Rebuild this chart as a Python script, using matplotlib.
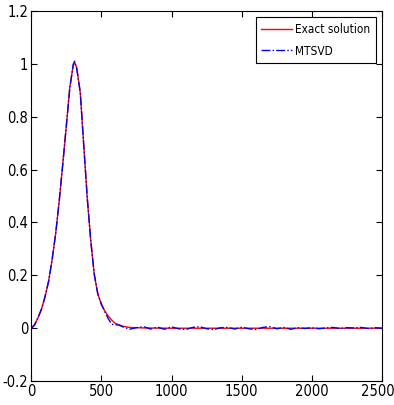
import matplotlib
matplotlib.use('Agg')
import matplotlib.pyplot as plt
from matplotlib.transforms import ScaledTranslation

# exact solution
x_exact = [0, 25, 50, 75, 100, 125, 150, 175, 200, 225, 250, 275, 300, 310, 325,
           350, 375, 400, 425, 450, 475, 500, 525, 550, 575, 600, 650, 700, 800,
           1000, 2500]
y_exact = [0, 0.015, 0.04, 0.075, 0.12, 0.18, 0.26, 0.36, 0.48, 0.62, 0.76, 0.91,
           0.995, 1.005, 0.985, 0.89, 0.69, 0.49, 0.33, 0.20, 0.13, 0.09, 0.065,
           0.045, 0.03, 0.018, 0.008, 0.003, 0.001, 0, 0]

# MTSVD reconstruction, follows the peak and wiggles around 0 in the tail
x_mtsvd = [0, 25, 50, 75, 100, 125, 150, 175, 200, 225, 250, 275, 300, 310, 325,
           350, 375, 400, 425, 450, 475, 500, 525, 550, 575, 600, 625, 650, 700,
           750, 800, 850, 900, 950, 1000, 1050, 1100, 1150, 1200, 1250, 1300,
           1350, 1400, 1450, 1500, 1550, 1600, 1650, 1700, 1750, 1800, 1850, 1900,
           1950, 2000, 2050, 2100, 2150, 2200, 2250, 2300, 2350, 2400, 2450, 2500]
y_mtsvd = [-0.003, 0.012, 0.042, 0.073, 0.122, 0.178, 0.262, 0.358, 0.482, 0.618,
           0.762, 0.905, 0.998, 1.01, 0.98, 0.893, 0.688, 0.492, 0.328, 0.205,
           0.128, 0.092, 0.062, 0.035, 0.015, 0.013, 0.012, 0.006, -0.004, 0.002,
           0.006, -0.003, 0.004, -0.004, 0.005, -0.002, -0.005, 0.003, 0.006,
           -0.002, -0.005, 0.002, 0.003, -0.003, 0.004, -0.002, -0.005, 0.003,
           0.006, -0.002, 0.003, -0.004, 0.002, -0.001, 0.002, -0.002, 0.001,
           0.003, -0.001, 0.002, 0.001, 0.003, -0.001, 0.002, 0.0]

xticks = [0, 500, 1000, 1500, 2000, 2500]
yticks = [-0.2, 0, 0.2, 0.4, 0.6, 0.8, 1, 1.2]
ytick_labels = ['-0.2', '0', '0.2', '0.4', '0.6', '0.8', '1', '1.2']

# narrow look of the original (matlab) labels
plt.rcParams['font.family'] = ['DejaVu Sans']
plt.rcParams['font.stretch'] = 'condensed'

fig = plt.figure(figsize=(3.94, 4.05), dpi=100)
ax = fig.add_axes([0.079, 0.059, 0.891, 0.914])

ax.plot(x_exact, y_exact, color='#ff0000', lw=1.0, label='Exact solution')
ax.plot(x_mtsvd, y_mtsvd, color='#0000ff', lw=1.0, ls='-.', label='MTSVD')

ax.set_xlim(0, 2500)
ax.set_ylim(-0.2, 1.2)
ax.set_xticks(xticks)
ax.set_yticks(yticks)
ax.set_yticklabels(ytick_labels)
ax.tick_params(direction='in', top=True, right=True, labelsize=10.5, length=4, pad=2)
for s in ax.spines.values():
    s.set_linewidth(0.8)

# keep the last x label inside the picture
fig.canvas.draw()
last = ax.xaxis.get_major_ticks()[-1].label1
last.set_transform(last.get_transform() + ScaledTranslation(-3 / 72, 0, fig.dpi_scale_trans))

leg = ax.legend(loc='upper right', fontsize=8.5, fancybox=False, framealpha=1,
                edgecolor='black', borderaxespad=0.55, handlelength=2.6,
                handletextpad=0.3, borderpad=0.45, labelspacing=0.75)
leg.get_frame().set_linewidth(0.8)

fig.savefig('out.png', dpi=100)
